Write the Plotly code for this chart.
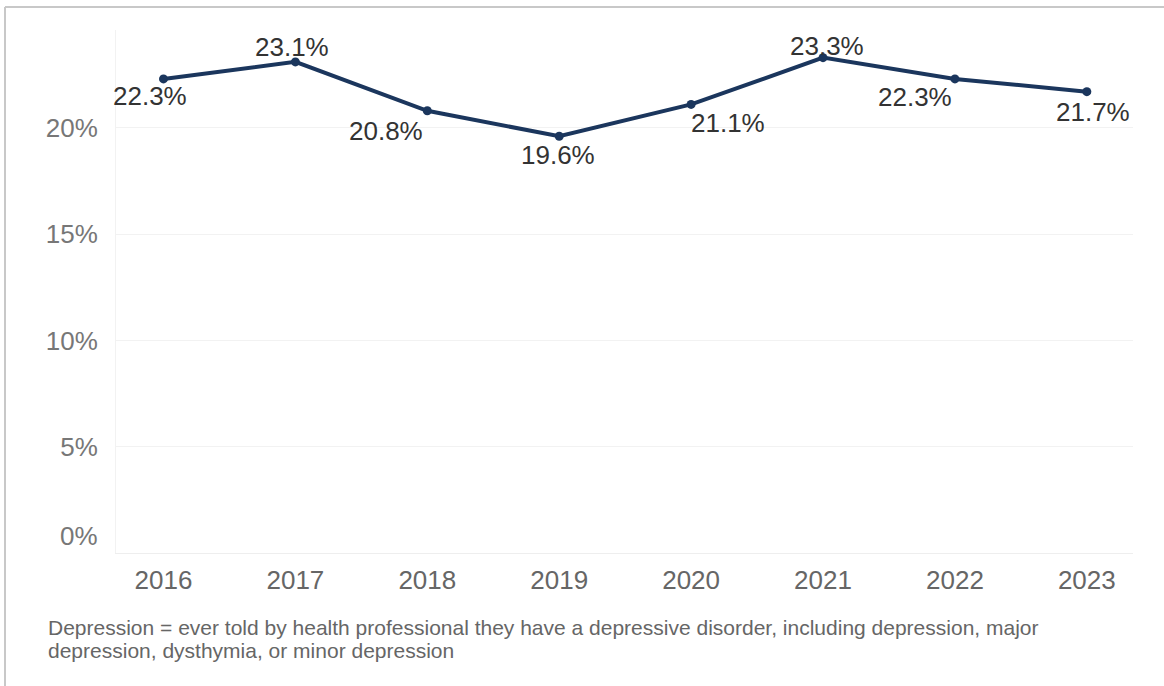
import plotly.graph_objects as go

years = ["2016", "2017", "2018", "2019", "2020", "2021", "2022", "2023"]
values = [22.3, 23.1, 20.8, 19.6, 21.1, 23.3, 22.3, 21.7]
y_ticks = [0, 5, 10, 15, 20]
y_tick_labels = ["0%", "5%", "10%", "15%", "20%"]
note_lines = [
    "Depression = ever told by health professional they have a depressive disorder, including depression, major",
    "depression, dysthymia, or minor depression",
]

# label offsets (style): (xshift, yshift) in px
label_shift = [(-13, -17), (-3, 15), (-41, -20), (-1, -19), (37, -19), (4, 12), (-40, -18), (6, -20)]

W, H = 1164, 686
L, R, T, B = 116, 31, 30, 133
pw, ph = W - L - R, H - T - B
FONT = "Liberation Sans, Arial"


def px_to_paper_y(py):
    return (H - B - py) / ph


def px_to_paper_x(px):
    return (px - L) / pw


xs = list(range(len(years)))
fig = go.Figure()
fig.add_trace(go.Scatter(
    x=xs, y=values, mode="lines+markers",
    line=dict(color="#1b365d", width=4),
    marker=dict(color="#1b365d", size=9),
    hoverinfo="skip", showlegend=False,
))

for x, v, (dx, dy) in zip(xs, values, label_shift):
    fig.add_annotation(x=x, y=v, text=f"{v:.1f}%", showarrow=False,
                       xshift=dx, yshift=dy,
                       font=dict(family=FONT, size=26, color="#333333"))

# y tick labels drawn via axis except 0%, which sits raised above the baseline
tick_text = [("" if t == 0 else lab) for t, lab in zip(y_ticks, y_tick_labels)]
fig.add_annotation(xref="paper", yref="y", x=px_to_paper_x(100), y=y_ticks[0],
                   yshift=17, xanchor="right", yanchor="middle", showarrow=False,
                   text=y_tick_labels[0], font=dict(family=FONT, size=26, color="#777777"))

# footnote
for i, line in enumerate(note_lines):
    fig.add_annotation(xref="paper", yref="paper", x=px_to_paper_x(47),
                       y=px_to_paper_y(627 + 23 * i),
                       xanchor="left", yanchor="middle", align="left", showarrow=False,
                       text=line, font=dict(family=FONT, size=21, color="#666666"),
                       borderpad=0)

# outer border (top and left)
fig.add_shape(type="line", xref="paper", yref="paper",
              x0=px_to_paper_x(5), x1=px_to_paper_x(W + 5), y0=px_to_paper_y(7), y1=px_to_paper_y(7),
              line=dict(color="#c8c8c8", width=2))
fig.add_shape(type="line", xref="paper", yref="paper",
              x0=px_to_paper_x(5), x1=px_to_paper_x(5), y0=px_to_paper_y(7), y1=px_to_paper_y(H + 10),
              line=dict(color="#c8c8c8", width=2))

fig.update_layout(
    width=W, height=H,
    margin=dict(l=L, r=R, t=T, b=B),
    paper_bgcolor="white", plot_bgcolor="white",
    font=dict(family=FONT),
    xaxis=dict(range=[-0.36, 7.35], tickvals=xs, ticktext=years,
               showgrid=False, zeroline=False, showline=True, linecolor="#eeeeee", linewidth=1,
               tickfont=dict(size=26, color="#666666"), ticks="", ticklabelstandoff=4),
    yaxis=dict(range=[0, 24.6], tickvals=y_ticks, ticktext=tick_text,
               showgrid=True, gridcolor="#f2f2f2", zeroline=False,
               showline=True, linecolor="#f2f2f2", linewidth=1,
               tickfont=dict(size=26, color="#777777"), ticks="", ticklabelstandoff=12),
)

fig.write_html("out.html")
